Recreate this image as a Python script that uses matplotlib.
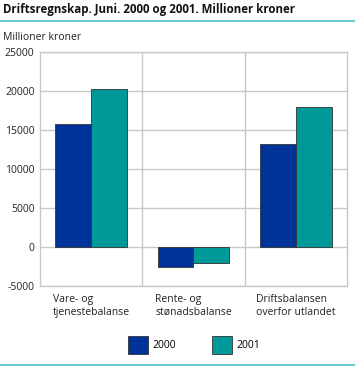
import matplotlib
matplotlib.use("Agg")
import matplotlib.pyplot as plt
import numpy as np

categories = ["Vare- og\ntjenestebalanse", "Rente- og\nstønadsbalanse", "Driftsbalansen\noverfor utlandet"]
series_names = ["2000", "2001"]
values_2000 = [15800, -2500, 13200]
values_2001 = [20200, -2100, 18000]
yticks = [-5000, 0, 5000, 10000, 15000, 20000, 25000]
colors = ["#003399", "#009999"]

plt.rcParams['font.family'] = ['Open Sans', 'DejaVu Sans']

fig = plt.figure(figsize=(3.55, 3.66), dpi=100)
ax = fig.add_axes([40/355, 1-286/366, 307/355, 234/366])

x = np.arange(len(categories))
w = 0.35
ax.bar(x - w/2, values_2000, w, color=colors[0], edgecolor="#333333", linewidth=0.6, zorder=3, label=series_names[0])
ax.bar(x + w/2, values_2001, w, color=colors[1], edgecolor="#333333", linewidth=0.6, zorder=3, label=series_names[1])

ax.set_xlim(-0.5, len(categories) - 0.5)
ax.set_ylim(-5000, 25000)
ax.set_yticks(yticks)
ax.set_yticklabels([str(t) for t in yticks], fontsize=7.5, color="#222222")
ax.yaxis.grid(True, color="#c8c8c8", linewidth=1, zorder=0)
for b in [0.5, 1.5]:
    ax.axvline(b, color="#c8c8c8", linewidth=1, zorder=0)
for s in ax.spines.values():
    s.set_color("#c8c8c8")
    s.set_linewidth(1)
ax.tick_params(axis='y', length=0, pad=4)
ax.tick_params(axis='x', length=0)
ax.set_xticks([])
for i, c in enumerate(categories):
    ax.text(i, -6000, c, ha='center', va='top', multialignment='left', fontsize=7.5,
            color="#222222", linespacing=1.3)

fig.text(3/355, 1-10/366, "Driftsregnskap. Juni. 2000 og 2001. Millioner kroner",
         fontsize=8.3, fontweight='bold', va='center', ha='left', color="#111111")
fig.add_artist(plt.Line2D([0, 1], [1-21/366, 1-21/366], color="#66cccc", linewidth=1.5))
fig.text(3/355, 1-37/366, "Millioner kroner", fontsize=7.5, va='center', ha='left', color="#222222")
fig.add_artist(plt.Line2D([0, 1], [1-364.5/366, 1-364.5/366], color="#66cccc", linewidth=1.5))

handles, labels = ax.get_legend_handles_labels()
leg = fig.legend(handles, labels, loc='center', bbox_to_anchor=(194/355, 1-345/366), ncol=2,
                 frameon=False, fontsize=7.5, handlelength=1.9, handleheight=2.2,
                 columnspacing=3.5, handletextpad=0.4)

fig.savefig("out.png", dpi=100)
